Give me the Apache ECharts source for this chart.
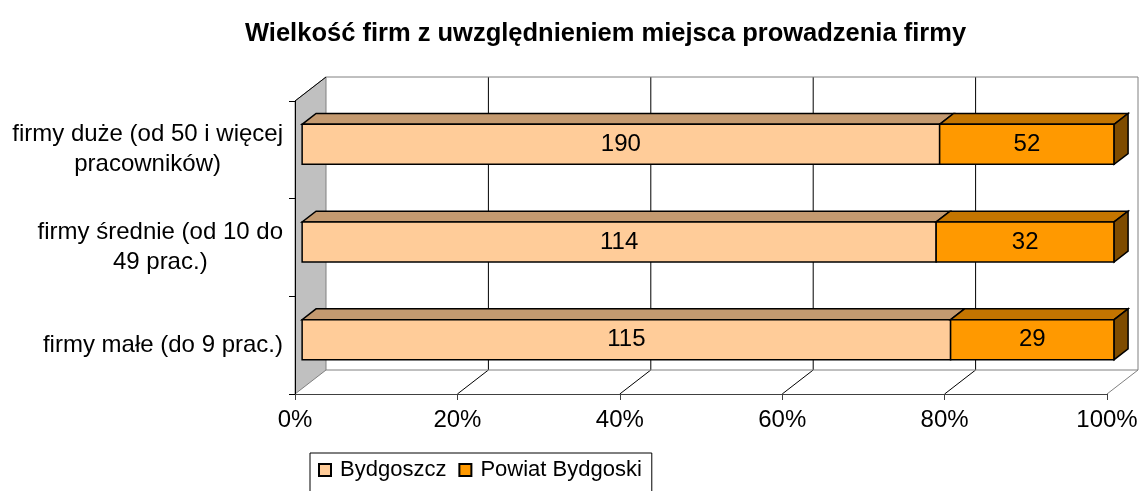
<!DOCTYPE html>
<html>
<head>
<meta charset="utf-8">
<script src="https://cdn.jsdelivr.net/npm/echarts@6/dist/echarts.min.js"></script>
<style>
  html, body { margin: 0; padding: 0; background: #fff; }
  #main { width: 1139px; height: 491px; }
</style>
</head>
<body>
<div id="main"></div>
<script>
// dane (kategorie od dołu)
var categories = ['firmy małe (do 9 prac.)', 'firmy średnie (od 10 do\n49 prac.)', 'firmy duże (od 50 i więcej\npracowników)'];
var bydgoszcz = [115, 114, 190];
var powiat = [29, 32, 52];
var seriesNames = ['Bydgoszcz', 'Powiat Bydgoski'];
var xTicks = [0, 20, 40, 60, 80, 100];

var FONT = '"Liberation Sans", Arial, sans-serif';
// glebokosc 3D (px) - sciany i slupki
var DX = 31, DY = -24;
var BAR_F0 = 0.23, BAR_F1 = 0.68, BAR_H = 0.41;

var totals = bydgoszcz.map(function (v, i) { return v + powiat[i]; });

function stackData(values, base) {
  return values.map(function (v, i) {
    var s = base ? base[i] / totals[i] * 100 : 0;
    return [s, s + v / totals[i] * 100, i, v];
  });
}

function seg(p1, p2, color) {
  return {
    type: 'line',
    shape: { x1: p1[0], y1: p1[1], x2: p2[0], y2: p2[1] },
    style: { stroke: color, lineWidth: 1 }
  };
}

// sciany wykresu 3D
function renderWalls(params, api) {
  var cs = params.coordSys;
  var x0 = cs.x, x1 = cs.x + cs.width, y0 = cs.y, y1 = cs.y + cs.height;
  var ch = [];
  ch.push({ type: 'rect', shape: { x: x0 + DX, y: y0 + DY, width: cs.width, height: cs.height }, style: { fill: '#fff' } });
  ch.push({ type: 'polygon', shape: { points: [[x0, y1], [x1, y1], [x1 + DX, y1 + DY], [x0 + DX, y1 + DY]] }, style: { fill: '#fff' } });
  xTicks.forEach(function (t) {
    if (t === 0 || t === 100) return;
    var x = api.coord([t, 0])[0];
    ch.push(seg([x + DX, y0 + DY], [x + DX, y1 + DY], '#000'));
    ch.push(seg([x, y1], [x + DX, y1 + DY], '#000'));
  });
  // ramka tylnej sciany i podlogi
  ch.push(seg([x0 + DX, y0 + DY], [x1 + DX, y0 + DY], '#808080'));
  ch.push(seg([x1 + DX, y0 + DY], [x1 + DX, y1 + DY], '#808080'));
  ch.push(seg([x0 + DX, y1 + DY], [x1 + DX, y1 + DY], '#808080'));
  ch.push(seg([x1, y1], [x1 + DX, y1 + DY], '#808080'));
  // lewa sciana
  ch.push({ type: 'polygon', shape: { points: [[x0, y0], [x0 + DX, y0 + DY], [x0 + DX, y1 + DY], [x0, y1]] }, style: { fill: '#C0C0C0', stroke: '#808080', lineWidth: 1 } });
  ch.push(seg([x0, y0], [x0 + DX, y0 + DY], '#000'));
  return { type: 'group', children: ch };
}

function barRenderer(cFront, cTop, cSide, isLast) {
  return function (params, api) {
    var s = api.value(0), e = api.value(1), cat = api.value(2);
    var band = api.size([0, 1])[1];
    var pS = api.coord([s, cat]), pE = api.coord([e, cat]);
    var h = band * BAR_H;
    var ox = DX * BAR_F0, oy = DY * BAR_F0;
    var bx = DX * (BAR_F1 - BAR_F0), by = DY * (BAR_F1 - BAR_F0);
    var xs = pS[0] + ox, xe = pE[0] + ox;
    var yt = pS[1] + oy - h / 2, yb = yt + h;
    var ch = [
      { type: 'polygon', shape: { points: [[xs, yt], [xe, yt], [xe + bx, yt + by], [xs + bx, yt + by]] }, style: { fill: cTop, stroke: '#000', lineWidth: 1.5 } },
      { type: 'rect', shape: { x: xs, y: yt, width: xe - xs, height: h }, style: { fill: cFront, stroke: '#000', lineWidth: 1.5 } }
    ];
    if (isLast) {
      ch.push({ type: 'polygon', shape: { points: [[xe, yt], [xe + bx, yt + by], [xe + bx, yb + by], [xe, yb]] }, style: { fill: cSide, stroke: '#000', lineWidth: 1.5 } });
    }
    ch.push({
      type: 'text',
      style: {
        text: String(api.value(3)), x: (xs + xe) / 2, y: (yt + yb) / 2,
        align: 'center', verticalAlign: 'middle',
        font: '24px ' + FONT, fill: '#000'
      }
    });
    return { type: 'group', children: ch };
  };
}

var myChart = echarts.init(document.getElementById('main'));

var option = {
  animation: false,
  backgroundColor: '#fff',
  title: {
    text: 'Wielkość firm z uwzględnieniem miejsca prowadzenia firmy',
    left: 240,
    top: 16,
    textStyle: { fontFamily: FONT, fontSize: 25.5, fontWeight: 'bold', color: '#000' }
  },
  legend: {
    data: seriesNames,
    left: 310,
    top: 453,
    orient: 'horizontal',
    icon: 'rect',
    itemWidth: 12,
    itemHeight: 12,
    itemGap: 12,
    padding: [6, 10, 20, 8],
    borderColor: '#000',
    borderWidth: 1,
    textStyle: { fontFamily: FONT, fontSize: 22, color: '#000', padding: [0, 0, 0, 4] }
  },
  grid: { left: 295, right: 32, top: 101, bottom: 97, outerBoundsMode: 'none' },
  xAxis: {
    type: 'value',
    min: 0,
    max: 100,
    interval: 20,
    z: 5,
    axisLine: { show: true, lineStyle: { color: '#404040', width: 1 } },
    axisTick: { show: true, length: 6, lineStyle: { color: '#404040' } },
    splitLine: { show: false },
    axisLabel: { formatter: '{value}%', fontFamily: FONT, fontSize: 24, color: '#000', margin: 14 }
  },
  yAxis: {
    type: 'category',
    data: categories,
    z: 5,
    axisLine: { show: true, lineStyle: { color: '#000', width: 1 } },
    axisTick: { show: true, length: 6, lineStyle: { color: '#000' } },
    splitLine: { show: false },
    axisLabel: {
      margin: 12,
      formatter: function (v) {
        return v.split('\n').map(function (l) { return '{c|' + l + '}'; }).join('\n');
      },
      rich: { c: { align: 'center', fontFamily: FONT, fontSize: 24, lineHeight: 30, color: '#000' } }
    }
  },
  series: [
    {
      type: 'custom',
      name: 'walls',
      z: 1,
      silent: true,
      renderItem: renderWalls,
      data: [[0, 0]]
    },
    {
      type: 'custom',
      name: seriesNames[0],
      z: 2,
      itemStyle: { color: '#FFCC99', borderColor: '#000', borderWidth: 1 },
      renderItem: barRenderer('#FFCC99', '#C49A70', '#7F6040', false),
      encode: { x: [0, 1], y: 2 },
      data: stackData(bydgoszcz, null)
    },
    {
      type: 'custom',
      name: seriesNames[1],
      z: 3,
      itemStyle: { color: '#FF9900', borderColor: '#000', borderWidth: 1 },
      renderItem: barRenderer('#FF9900', '#C47500', '#7F4C00', true),
      encode: { x: [0, 1], y: 2 },
      data: stackData(powiat, bydgoszcz)
    }
  ]
};

myChart.setOption(option);
</script>
</body>
</html>
